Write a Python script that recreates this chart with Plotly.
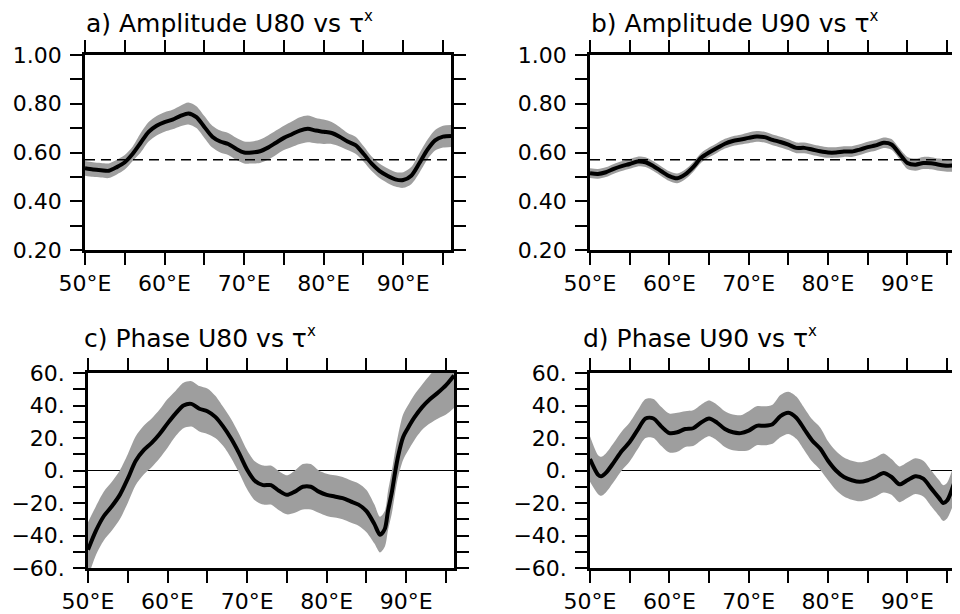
import plotly.graph_objects as go

# ---------------- data ----------------
A_LON = list(range(50, 97))
A_VAL = [0.535, 0.530, 0.527, 0.525, 0.540, 0.560, 0.595, 0.640, 0.685, 0.710,
         0.725, 0.735, 0.750, 0.760, 0.745, 0.705, 0.665, 0.645, 0.635, 0.615,
         0.600, 0.600, 0.605, 0.620, 0.640, 0.660, 0.675, 0.690, 0.697, 0.690,
         0.685, 0.680, 0.665, 0.645, 0.630, 0.595, 0.555, 0.525, 0.505, 0.490,
         0.487, 0.505, 0.555, 0.610, 0.650, 0.665, 0.668]
A_ERR = [0.030, 0.030, 0.030, 0.030, 0.030, 0.030, 0.030, 0.040, 0.040, 0.040,
         0.040, 0.040, 0.042, 0.045, 0.045, 0.045, 0.045, 0.045, 0.045, 0.045,
         0.045, 0.045, 0.048, 0.050, 0.050, 0.050, 0.052, 0.055, 0.055, 0.052,
         0.050, 0.045, 0.040, 0.035, 0.035, 0.032, 0.030, 0.030, 0.030, 0.030,
         0.032, 0.035, 0.040, 0.040, 0.042, 0.045, 0.045]

B_LON = list(range(50, 97))
B_VAL = [0.515, 0.512, 0.519, 0.533, 0.544, 0.553, 0.563, 0.560, 0.544, 0.523,
         0.503, 0.494, 0.510, 0.540, 0.578, 0.600, 0.618, 0.636, 0.647, 0.653,
         0.660, 0.666, 0.663, 0.652, 0.643, 0.632, 0.619, 0.619, 0.612, 0.605,
         0.600, 0.600, 0.604, 0.604, 0.612, 0.622, 0.629, 0.640, 0.633, 0.595,
         0.557, 0.550, 0.557, 0.556, 0.550, 0.546, 0.547]
B_ERR = [0.020] * 20 + [0.022] * 10 + [0.022] * 10 + [0.025] * 7

C_LON = [50, 51, 52, 53, 54, 55, 56, 57, 58, 59, 60, 61, 62, 63, 64, 65, 66, 67,
         68, 69, 70, 71, 72, 73, 74, 75, 76, 77, 78, 79, 80, 81, 82, 83, 84, 85,
         86, 86.7, 87.3, 87.7, 88.2, 88.6, 89, 89.6, 90.2, 91, 92, 93, 94, 95, 96]
C_VAL = [-48.8, -37, -28, -22, -15, -5, 6, 12.5, 17, 22.5, 29, 35, 40, 41, 38,
         36.5, 33, 27, 19.5, 10.5, 0.5, -6.5, -9, -9, -12.5, -15, -13, -10, -10,
         -13, -15, -16, -17, -19, -21, -25, -33, -39.5, -36, -25, -13, -1, 9.4,
         20.5, 26, 32.5, 39, 44, 48, 52.5, 58.5]
C_ERR = [17, 15, 15, 15, 15, 15, 15, 15, 15, 15, 15, 14, 14, 14, 14, 14, 13, 12,
         12, 12, 12, 12, 12, 12, 12, 12, 13, 14, 14, 13, 13, 13, 13, 13, 13, 13,
         12, 11, 11, 12, 13, 13, 13, 14, 14, 14, 14, 15, 16, 18, 20]

D_LON = [50, 51, 51.4, 52, 53, 54, 55, 56, 57, 58, 59, 60, 61, 62, 63, 64, 65,
         66, 67, 68, 69, 70, 71, 72, 73, 74, 75, 76, 77, 78, 79, 80, 81, 82, 83,
         84, 85, 86, 87, 88, 89, 90, 91, 92, 93, 94, 94.5, 95, 96]
D_VAL = [7, -2.5, -3.6, -1.5, 5, 12, 17.5, 25, 32, 32, 27, 23, 23.5, 25.5, 26,
         29.5, 32, 29.5, 25.5, 23.5, 23, 24.5, 27.5, 27.5, 28.5, 33.5, 35.5,
         32.5, 25.5, 18.5, 13.5, 6, 0, -4, -6, -7, -6, -4, -1.5, -4, -8.5, -6,
         -3.5, -5, -11, -17, -20, -18.5, -6]
D_ERR = [14, 12, 12, 12, 12, 12, 12, 12, 12, 12, 12, 12, 12, 11, 11, 11, 11, 11,
         11, 11, 11, 12, 12, 12, 12, 13, 13, 13, 13, 13, 13, 12, 12, 12, 12, 12,
         12, 12, 12, 11, 11, 11, 11, 11, 11, 11, 11, 11, 12]

REF_LEVEL = 0.57

SUP = "<sup><span style='font-size:15px'>x</span></sup>"
TITLES = ["a) Amplitude U80 vs τ" + SUP, "b) Amplitude U90 vs τ" + SUP,
          "c) Phase U80 vs τ" + SUP, "d) Phase U90 vs τ" + SUP]

X_TICKS = [50, 60, 70, 80, 90]
X_LABELS = ["50°E", "60°E", "70°E", "80°E", "90°E"]
AMP_TICKS = [0.2, 0.4, 0.6, 0.8, 1.0]
AMP_LABELS = ["0.20", "0.40", "0.60", "0.80", "1.00"]
PH_TICKS = [-60, -40, -20, 0, 20, 40, 60]
PH_LABELS = ["−60.", "−40.", "−20.", "0.", "20.", "40.", "60."]

# ---------------- layout geometry ----------------
W, H = 960, 614
OFF = 8  # page body margin in the browser
PANELS = [
    dict(x=(85, 451), y=(55, 250)),
    dict(x=(590, 955), y=(55, 250)),
    dict(x=(88, 454), y=(373, 568)),
    dict(x=(590, 955), y=(373, 568)),
]
TITLE_POS = [(84, 22), (589, 22), (82, 337), (581, 337)]

FONT = "DejaVu Sans"
BAND = "#9e9e9e"

fig = go.Figure()

series = [(A_LON, A_VAL, A_ERR), (B_LON, B_VAL, B_ERR),
          (C_LON, C_VAL, C_ERR), (D_LON, D_VAL, D_ERR)]

for i, (lon, val, err) in enumerate(series):
    n = "" if i == 0 else str(i + 1)
    xa, ya = "x" + n, "y" + n
    lo = [v - e for v, e in zip(val, err)]
    hi = [v + e for v, e in zip(val, err)]
    fig.add_trace(go.Scatter(x=lon, y=lo, mode="lines", line=dict(width=0, shape="spline", smoothing=0.8),
                             xaxis=xa, yaxis=ya, hoverinfo="skip", showlegend=False))
    fig.add_trace(go.Scatter(x=lon, y=hi, mode="lines", fill="tonexty", fillcolor=BAND,
                             line=dict(width=0, shape="spline", smoothing=0.8),
                             xaxis=xa, yaxis=ya, hoverinfo="skip", showlegend=False))
    if i < 2:
        fig.add_trace(go.Scatter(x=[lon[0], lon[-1]], y=[REF_LEVEL, REF_LEVEL], mode="lines",
                                 line=dict(color="black", width=1.5, dash="10px,6px"),
                                 xaxis=xa, yaxis=ya, showlegend=False))
    fig.add_trace(go.Scatter(x=lon, y=val, mode="lines",
                             line=dict(color="black", width=4, shape="spline", smoothing=0.8),
                             xaxis=xa, yaxis=ya, showlegend=False))

    p = PANELS[i]
    xdom = [(p["x"][0] - OFF) / W, min(1.0, (p["x"][1] - OFF) / W)]
    ydom = [1 - (p["y"][1] - OFF) / H, 1 - (p["y"][0] - OFF) / H]
    amp = i < 2
    axis_common = dict(showline=True, linecolor="black", linewidth=2.5, mirror="ticks",
                       ticks="outside", ticklen=12, tickwidth=2, tickcolor="black",
                       showgrid=False, automargin=False,
                       tickfont=dict(family=FONT, size=22, color="black"))
    fig.update_layout(**{
        "xaxis" + n: dict(domain=xdom, range=[50, 96], tickvals=X_TICKS, ticktext=X_LABELS,
                          anchor=ya, zeroline=False,
                          minor=dict(ticks="outside", ticklen=12, tickwidth=2, tickcolor="black",
                                     tickvals=[55, 65, 75, 85, 95]),
                          **axis_common),
        "yaxis" + n: dict(domain=ydom, range=[0.2, 1.0] if amp else [-60, 60],
                          tickvals=AMP_TICKS if amp else PH_TICKS,
                          ticktext=AMP_LABELS if amp else PH_LABELS,
                          anchor=xa, ticklabelstandoff=4,
                          zeroline=not amp, zerolinecolor="black", zerolinewidth=1,
                          minor=dict(ticks="outside", ticklen=12, tickwidth=2, tickcolor="black",
                                     tickvals=[0.3, 0.5, 0.7, 0.9] if amp else [-50, -30, -10, 10, 30, 50]),
                          **axis_common),
    })
    tx, ty = TITLE_POS[i]
    fig.add_annotation(text=TITLES[i], xref="paper", yref="paper", x=(tx - OFF) / W,
                       y=1 - (ty - OFF) / H,
                       xanchor="left", yanchor="middle", showarrow=False,
                       font=dict(family=FONT, size=25, color="black"))

fig.update_layout(width=W, height=H, margin=dict(l=0, r=0, t=0, b=0),
                  paper_bgcolor="white", plot_bgcolor="white", showlegend=False)

fig.write_html("out.html")
